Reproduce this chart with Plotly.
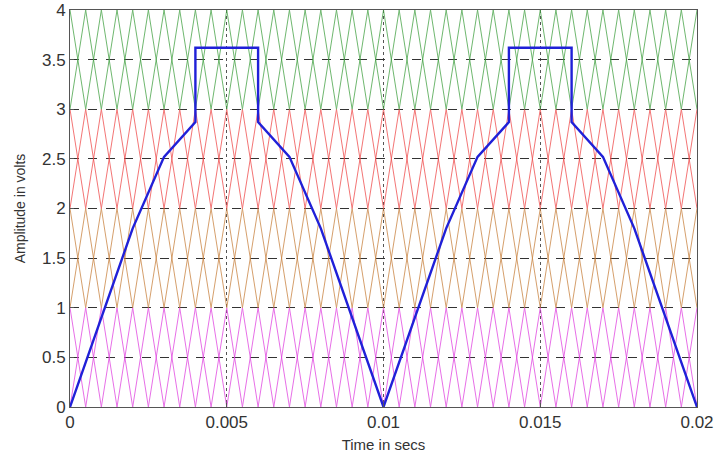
import numpy as np
import plotly.graph_objects as go

# Carrier bands (level shifted triangular carriers), two opposite-phase carriers per band
band_lows = [0, 1, 2, 3]
band_highs = [1, 2, 3, 4]
band_colors = ["#e040e0", "#c8803c", "#f04848", "#40a040"]
carrier_period = 0.001
t_end = 0.02

# Modulating (reference) signal
mod_t = [0, 0.001, 0.002, 0.003, 0.004, 0.004, 0.006, 0.006, 0.007, 0.008, 0.009, 0.010,
         0.011, 0.012, 0.013, 0.014, 0.014, 0.016, 0.016, 0.017, 0.018, 0.019, 0.020]
mod_v = [0, 0.9, 1.8, 2.52, 2.87, 3.62, 3.62, 2.87, 2.52, 1.8, 0.9, 0,
         0.9, 1.8, 2.52, 2.87, 3.62, 3.62, 2.87, 2.52, 1.8, 0.9, 0]

x_ticks = [0, 0.005, 0.01, 0.015, 0.02]
x_tick_text = ["0", "0.005", "0.01", "0.015", "0.02"]
y_ticks = [0, 0.5, 1, 1.5, 2, 2.5, 3, 3.5, 4]
y_tick_text = ["0", "0.5", "1", "1.5", "2", "2.5", "3", "3.5", "4"]

fig = go.Figure()

half = carrier_period / 2
vert_t = np.arange(0, t_end + half / 2, half)
for lo, hi, col in zip(band_lows, band_highs, band_colors):
    for phase in (0, 1):
        vals = [hi if (i + phase) % 2 == 0 else lo for i in range(len(vert_t))]
        fig.add_trace(go.Scatter(x=vert_t, y=vals, mode="lines",
                                 line=dict(color=col, width=1), opacity=0.75,
                                 hoverinfo="skip", showlegend=False))

fig.add_trace(go.Scatter(x=mod_t, y=mod_v, mode="lines",
                         line=dict(color="#2020d8", width=2.4), showlegend=False))

fig.update_layout(
    width=718, height=459,
    margin=dict(l=70, r=21, t=10, b=52),
    paper_bgcolor="white", plot_bgcolor="white",
    font=dict(family="Liberation Sans, Arial, sans-serif", size=17, color="#333333"),
    showlegend=False,
)
fig.update_xaxes(range=[0, 0.02], tickvals=x_ticks, ticktext=x_tick_text,
                 automargin=False,
                 showgrid=True, gridcolor="#555555", griddash="dot", gridwidth=1,
                 showline=True, linecolor="#555555", linewidth=1, mirror=True,
                 ticks="inside", ticklen=4, tickcolor="#555555",
                 zeroline=False,
                 title=dict(text="Time in secs", font=dict(size=15), standoff=8))
fig.update_yaxes(range=[0, 4], tickvals=y_ticks, ticktext=y_tick_text,
                 automargin=False,
                 showgrid=True, gridcolor="#333333", griddash="dash", gridwidth=1,
                 showline=True, linecolor="#555555", linewidth=1, mirror=True,
                 ticks="inside", ticklen=4, tickcolor="#555555",
                 zeroline=False,
                 title=dict(text="Amplitude in volts", font=dict(size=14), standoff=13))

# remove the default 8px page margin so the figure sits at the window's top-left
fig.write_html("out.html", config={"displayModeBar": False},
               post_script="document.body.style.margin='0';")
